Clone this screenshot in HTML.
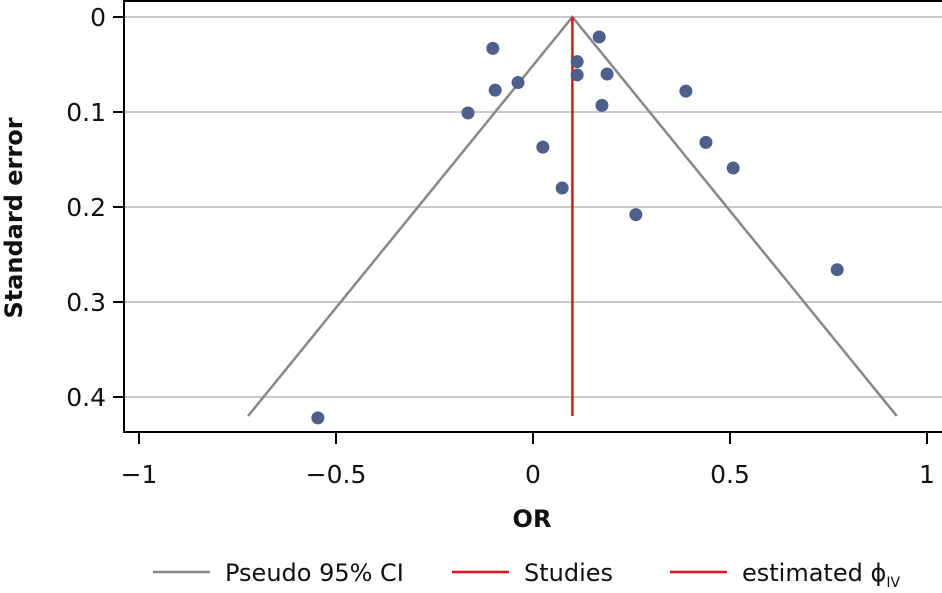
<!DOCTYPE html>
<html><head><meta charset="utf-8"><style>
body{margin:0;background:#fff;}
svg{display:block;font-family:"DejaVu Sans","Liberation Sans",sans-serif;}
</style></head><body>
<svg id="chart" width="942" height="593">
<g id="grid"></g><g id="marks"></g><g id="axes"></g><g id="legend"></g>
</svg>
<script>
const studyOR=[-0.102,0.168,0.112,0.112,0.188,-0.038,-0.096,-0.165,0.175,0.388,0.025,0.439,0.074,0.508,0.261,0.772,-0.546];
const studySE=[0.033,0.021,0.047,0.061,0.060,0.069,0.077,0.101,0.093,0.078,0.137,0.132,0.180,0.159,0.208,0.266,0.422];
const estimate=[0.1];
const maxSE=[0.42];
const xTicks=[-1,-0.5,0,0.5,1];
const xTickLabels=["\u22121","\u22120.5","0","0.5","1"];
const yTicks=[0,0.1,0.2,0.3,0.4];
const yTickLabels=["0","0.1","0.2","0.3","0.4"];

const NS="http://www.w3.org/2000/svg";
const X=v=>533+v*394, Y=v=>17+v*950;
function mk(parent,tag,attrs,text){const e=document.createElementNS(NS,tag);for(const k in attrs)e.setAttribute(k,attrs[k]);if(text!==undefined)e.textContent=text;(typeof parent==='string'?document.getElementById(parent):parent).appendChild(e);return e;}
yTicks.forEach((t,i)=>{
 let g=mk('grid','line',{x1:124,x2:942,y1:Y(t),y2:Y(t),stroke:'#c8c8c8','stroke-width':2});
 
 
 let tk=mk('axes','line',{x1:113,x2:124,y1:Y(t),y2:Y(t),stroke:'#000','stroke-width':2});
 
 
 let l=mk('axes','text',{x:106,y:Y(t)+9,'text-anchor':'end','font-size':25,fill:'#111'},yTickLabels[i]);
 
 
});
xTicks.forEach((t,i)=>{
 let tk=mk('axes','line',{x1:X(t),x2:X(t),y1:432,y2:444,stroke:'#000','stroke-width':2});
 
 
 let l=mk('axes','text',{x:X(t),y:483,'text-anchor':'middle','font-size':25,fill:'#111'},xTickLabels[i]);
 
 
});
let ax=mk('axes','path',{d:'M124,0 V432 H942 M124,1 H942',stroke:'#000','stroke-width':2,fill:'none'});


const e=estimate[0], m=maxSE[0];
let f=mk('marks','polyline',{points:`${X(e-1.96*m)},${Y(m)} ${X(e)},${Y(0)} ${X(e+1.96*m)},${Y(m)}`,stroke:'#888','stroke-width':2.5,fill:'none'});


let r=mk('marks','line',{x1:X(e),x2:X(e),y1:Y(0),y2:Y(m),stroke:'#e8101c','stroke-width':2.5});


studyOR.forEach((v,i)=>{
 let c=mk('marks','circle',{cx:X(v),cy:Y(studySE[i]),r:6.5,fill:'#4f5f8c'});
 
 
});
let yl=mk('axes','text',{x:0,y:0,transform:'translate(22,218) rotate(-90)','text-anchor':'middle','font-size':24,'font-weight':'bold',fill:'#111'},'Standard error');


let xl=mk('axes','text',{x:532,y:527,'text-anchor':'middle','font-size':24,'font-weight':'bold',fill:'#111'},'OR');


const leg=[[153,'#888','Pseudo 95% CI'],[452,'#e8101c','Studies'],[670,'#e8101c','estimated \u03D5']];
leg.forEach(([x,col,txt],i)=>{
 let l=mk('legend','line',{x1:x,x2:x+57,y1:572,y2:572,stroke:col,'stroke-width':2.5});
 
 
 let t=mk('legend','text',{x:x+72,y:581,'font-size':24,fill:'#111'},txt);
 
 
 if(i===2){
  let s=mk(t,'tspan',{'font-size':14,dy:6},'IV');
  
  
 }
});
</script>
</body></html>
